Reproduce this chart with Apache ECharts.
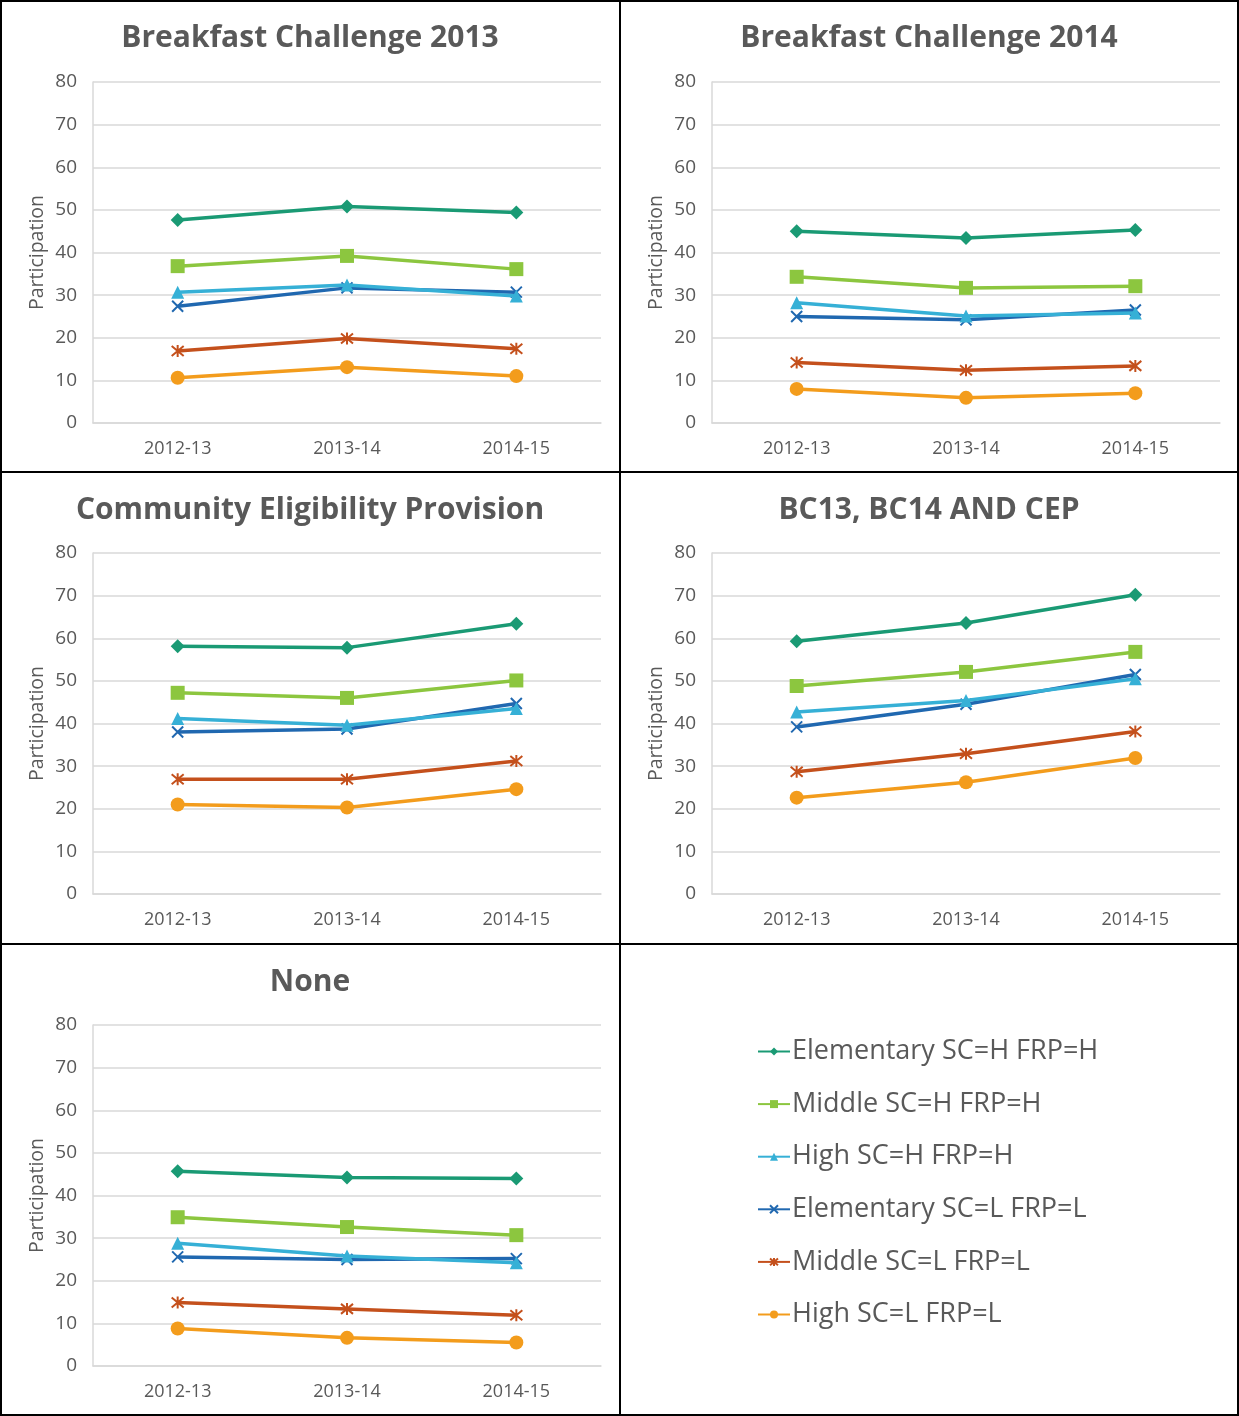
<!DOCTYPE html>
<html>
<head>
<meta charset="utf-8">
<title>School breakfast participation</title>
<script src="https://cdn.jsdelivr.net/npm/echarts@6/dist/echarts.min.js"></script>
<style>
  html, body { margin: 0; padding: 0; background: #ffffff; }
  #chart { width: 1239px; height: 1416px; }
</style>
</head>
<body>
<div id="chart"></div>
<script>
// School years on the category axis
const years = ['2012-13', '2013-14', '2014-15'];
const yTicks = [0, 10, 20, 30, 40, 50, 60, 70, 80];

// Series (school group) names
const groups = [
  'Elementary SC=H FRP=H',
  'Middle SC=H FRP=H',
  'High SC=H FRP=H',
  'Elementary SC=L FRP=L',
  'Middle SC=L FRP=L',
  'High SC=L FRP=L'
];

// Panel titles
const panelTitles = [
  'Breakfast Challenge 2013',
  'Breakfast Challenge 2014',
  'Community Eligibility Provision',
  'BC13, BC14 AND CEP',
  'None'
];

// Participation values, one array per group, per panel
const bc13 = [
  [47.6, 50.8, 49.4],
  [36.8, 39.2, 36.1],
  [30.7, 32.4, 29.8],
  [27.4, 31.7, 30.7],
  [16.9, 19.8, 17.4],
  [10.6, 13.1, 11.0]
];
const bc14 = [
  [45.0, 43.4, 45.3],
  [34.3, 31.7, 32.1],
  [28.2, 25.1, 25.8],
  [25.0, 24.2, 26.5],
  [14.2, 12.4, 13.4],
  [8.0, 5.9, 7.0]
];
const cep = [
  [58.1, 57.8, 63.4],
  [47.2, 46.0, 50.1],
  [41.2, 39.6, 43.5],
  [38.0, 38.7, 44.7],
  [26.9, 26.9, 31.2],
  [21.0, 20.3, 24.6]
];
const bcAll = [
  [59.3, 63.6, 70.2],
  [48.8, 52.1, 56.8],
  [42.7, 45.4, 50.5],
  [39.2, 44.5, 51.5],
  [28.7, 32.9, 38.1],
  [22.6, 26.2, 31.9]
];
const none = [
  [45.7, 44.2, 44.0],
  [34.9, 32.6, 30.7],
  [28.8, 25.8, 24.2],
  [25.6, 25.0, 25.2],
  [14.9, 13.4, 11.9],
  [8.8, 6.6, 5.5]
];
const panelData = [bc13, bc14, cep, bcAll, none];

// Styling
const colors = ['#1a9a74', '#8cc63f', '#36b0d6', '#2068b0', '#c4501c', '#f39c1c'];
const crossPath = 'path://M0,0L10,10M10,0L0,10';
const starPath = 'path://M0,0L10,10M10,0L0,10M5,-1L5,11';
const symbols = ['diamond', 'rect', 'triangle', crossPath, starPath, 'circle'];
const symbolSizes = [14, 14, 13, 11, 12, 14];
const textColor = '#595959';
const gridColor = '#d9d9d9';
const FONT = '"Open Sans", "Liberation Sans", sans-serif';

// Panel placement: two columns, three rows
const colLeft = [93, 712];
const rowTop = [82, 553, 1025];
const cellCenterX = [310, 929];
const titleTop = [23, 495, 967];
const plotW = 508, plotH = 341;

const titles = [], grids = [], xAxes = [], yAxes = [], series = [];

panelData.forEach((data, p) => {
  const col = p % 2, row = Math.floor(p / 2);
  titles.push({
    text: panelTitles[p],
    left: cellCenterX[col],
    top: titleTop[row],
    textAlign: 'center',
    padding: 0,
    textStyle: { fontFamily: FONT, fontSize: 30, fontWeight: 'bold', color: textColor }
  });
  grids.push({ left: colLeft[col], top: rowTop[row], width: plotW, height: plotH, containLabel: false });
  xAxes.push({
    type: 'category', gridIndex: p, data: years, boundaryGap: true,
    axisLine: { lineStyle: { color: gridColor, width: 1.5 } },
    axisTick: { show: false },
    axisLabel: { color: textColor, fontFamily: FONT, fontSize: 18, margin: 17 }
  });
  yAxes.push({
    type: 'value', gridIndex: p, min: yTicks[0], max: yTicks[yTicks.length - 1], interval: yTicks[1] - yTicks[0],
    name: 'Participation', nameLocation: 'middle', nameGap: 46,
    nameTextStyle: { color: textColor, fontFamily: FONT, fontSize: 19.5 },
    axisLine: { show: true, lineStyle: { color: gridColor, width: 1.5 } },
    axisTick: { show: false },
    splitLine: { lineStyle: { color: gridColor, width: 1.5 } },
    axisLabel: { color: textColor, fontFamily: FONT, fontSize: 19, margin: 16 }
  });
  data.forEach((vals, s) => {
    series.push({
      name: groups[s], type: 'line', xAxisIndex: p, yAxisIndex: p,
      data: vals,
      color: colors[s],
      symbol: symbols[s], symbolSize: symbolSizes[s],
      lineStyle: { color: colors[s], width: 3.5 },
      itemStyle: { color: colors[s], borderColor: colors[s], borderWidth: s === 3 || s === 4 ? 2 : 0 },
      emphasis: { disabled: true },
      animation: false,
      z: 10 - s
    });
  });
});

// Cell borders
const borderLines = [
  [0, 1, 1239, 1], [0, 1415, 1239, 1415], [1, 0, 1, 1416], [1238, 0, 1238, 1416],
  [620, 0, 620, 1416], [0, 472, 1239, 472], [0, 944, 1239, 944]
].map(([x1, y1, x2, y2]) => ({
  type: 'line', shape: { x1, y1, x2, y2 },
  style: { stroke: '#000000', lineWidth: 2 }, z: 100, silent: true
}));

const chart = echarts.init(document.getElementById('chart'), null, { renderer: 'canvas' });
chart.setOption({
  backgroundColor: '#ffffff',
  animation: false,
  title: titles,
  grid: grids,
  xAxis: xAxes,
  yAxis: yAxes,
  legend: {
    data: groups,
    orient: 'vertical',
    left: 752, top: 1033,
    itemWidth: 32, itemHeight: 10,
    itemGap: 25.6,
    textStyle: { fontFamily: FONT, fontSize: 27, color: textColor, lineHeight: 27, padding: [0, 0, 0, -3] },
    selectedMode: false
  },
  series: series,
  graphic: borderLines
});
</script>
</body>
</html>
